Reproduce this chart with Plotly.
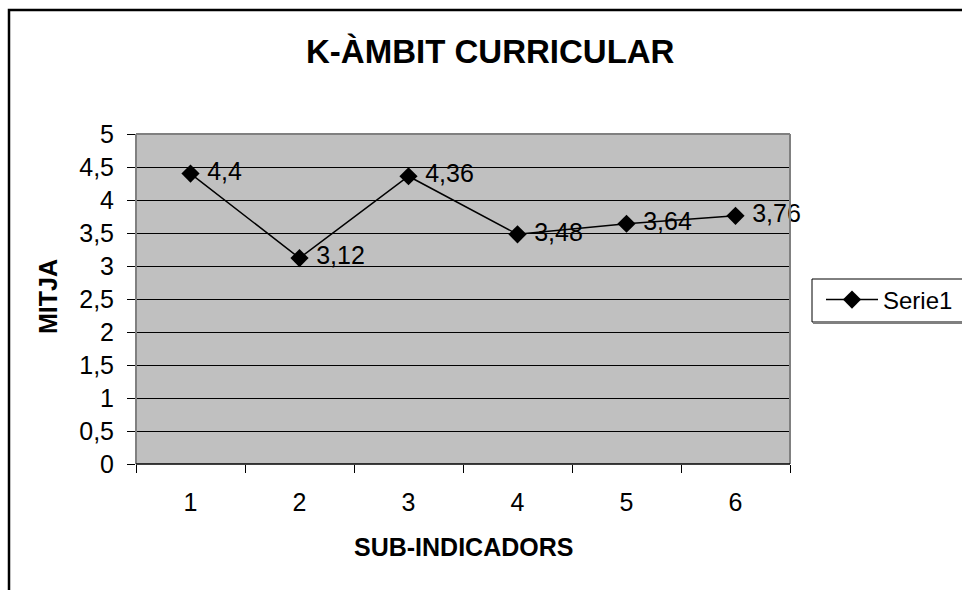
import plotly.graph_objects as go

# Sub-indicator means for the K curricular area
categories = ["1", "2", "3", "4", "5", "6"]
values = [4.4, 3.12, 4.36, 3.48, 3.64, 3.76]
series_name = "Serie1"
y_ticks = [0, 0.5, 1, 1.5, 2, 2.5, 3, 3.5, 4, 4.5, 5]

# value labels use a decimal comma; a leading no-break space keeps them off the marker
labels = ["\u00a0" + str(v).replace(".", ",") for v in values]

W, H = 962, 590
L, R, T, B = 136, 790, 134, 464
FONT = "Liberation Sans, Arial, sans-serif"


def px(x):
    return (x - L) / (R - L)


def py(y):
    return (B - y) / (B - T)


fig = go.Figure()
fig.add_trace(go.Scatter(
    x=categories, y=values, mode="lines+markers+text",
    name=series_name,
    line=dict(color="black", width=1.5),
    marker=dict(symbol="diamond", size=14, color="black"),
    text=labels, textposition="middle right",
    textfont=dict(family=FONT, size=25, color="black"),
    cliponaxis=False,
))

shapes = [
    # outer chart frame
    dict(type="rect", xref="paper", yref="paper",
         x0=px(9), x1=px(975), y0=py(10), y1=py(600),
         line=dict(color="black", width=2.5), layer="above"),
    # plot-area frame (grey top/left/right, black floor)
    dict(type="line", xref="paper", yref="paper", x0=0, x1=1, y0=1, y1=1,
         line=dict(color="#808080", width=2), layer="above"),
    dict(type="line", xref="paper", yref="paper", x0=0, x1=0, y0=0, y1=1,
         line=dict(color="#808080", width=2), layer="above"),
    dict(type="line", xref="paper", yref="paper", x0=1, x1=1, y0=0, y1=1,
         line=dict(color="#808080", width=2), layer="above"),
    dict(type="line", xref="paper", yref="paper", x0=0, x1=1, y0=0, y1=0,
         line=dict(color="black", width=1.5), layer="above"),
    # legend box
    dict(type="rect", xref="paper", yref="paper",
         x0=px(812), x1=px(975), y0=py(279), y1=py(322),
         line=dict(color="black", width=1), fillcolor="white", layer="below"),
    dict(type="line", xref="paper", yref="paper",
         x0=px(813), x1=px(975), y0=py(323), y1=py(323),
         line=dict(color="#808080", width=2), layer="below"),
]

annotations = [
    dict(text="<b>K-ÀMBIT CURRICULAR</b>", xref="paper", yref="paper",
         x=px(490), y=py(52), xanchor="center", yanchor="middle",
         showarrow=False, font=dict(family=FONT, size=33, color="black")),
    dict(text="<b>SUB-INDICADORS</b>", xref="paper", yref="paper",
         x=px(463), y=py(547), xanchor="center", yanchor="middle",
         showarrow=False, font=dict(family=FONT, size=25, color="black")),
    dict(text="<b>MITJA</b>", xref="paper", yref="paper",
         x=px(48), y=py(297), xanchor="center", yanchor="middle",
         textangle=-90, showarrow=False,
         font=dict(family=FONT, size=25, color="black")),
]

fig.update_layout(
    width=W, height=H,
    margin=dict(l=L, r=W - R, t=T, b=H - B, pad=0, autoexpand=False),
    paper_bgcolor="white", plot_bgcolor="#C0C0C0",
    separators=", ",
    font=dict(family=FONT, color="black"),
    showlegend=True,
    legend=dict(x=px(821), y=py(300), xanchor="left", yanchor="middle",
                bgcolor="rgba(0,0,0,0)", borderwidth=0, itemwidth=52,
                font=dict(family=FONT, size=24, color="black")),
    shapes=shapes, annotations=annotations,
)

fig.update_xaxes(
    type="category", categoryorder="array", categoryarray=categories,
    range=[-0.5, len(categories) - 0.5],
    tickson="boundaries", ticks="outside", ticklen=8, tickcolor="black",
    showgrid=False, showline=False, zeroline=False,
    tickfont=dict(family=FONT, size=25, color="black"),
    ticklabelstandoff=21,
)

fig.update_yaxes(
    range=[0, 5], tickvals=y_ticks, ticks="outside", ticklen=8,
    tickcolor="black", showgrid=True, gridcolor="black", gridwidth=1,
    zeroline=False, showline=False,
    tickfont=dict(family=FONT, size=25, color="black"),
    ticklabelstandoff=8,
)

fig.write_html("out.html")
